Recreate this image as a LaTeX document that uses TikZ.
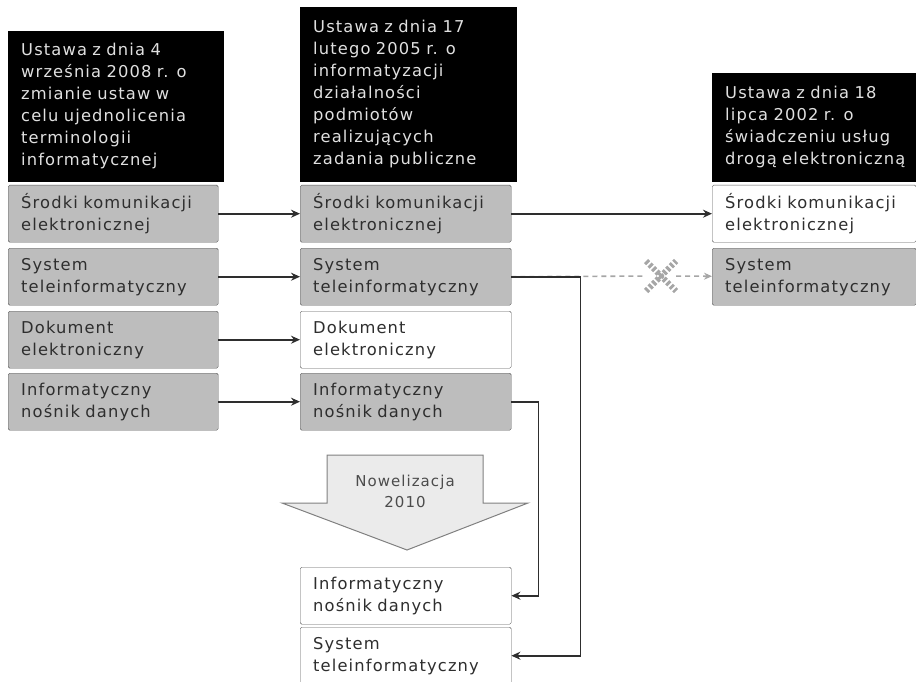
\documentclass[tikz,border=0pt]{standalone}
\usepackage{fontspec}
\setmainfont{DejaVu Sans}[LetterSpace=7]
\usetikzlibrary{arrows.meta,shapes.misc}

\definecolor{boxgray}{HTML}{BDBDBD}
\definecolor{inkgray}{HTML}{2E2E2E}

\begin{document}
\begin{tikzpicture}[x=1pt, y=-1pt,
  every node/.style={font=\fontsize{16.3}{22}\selectfont, text=inkgray},
  law/.style={fill=black, text=black!12, anchor=south west, align=left,
    inner xsep=13, inner ysep=0, minimum width=#1, text width=#1-20},
  term/.style={draw=black!65, fill=boxgray, anchor=north west, align=left,
    rounded corners=1.5, inner xsep=13, minimum height=57,
    minimum width=#1, text width=#1-26},
  term/.default=210,
  newterm/.style={term=#1, fill=white},
  newterm/.default=210,
  link/.style={draw=inkgray, line width=1.6, -{Stealth[length=9,width=8]}},
  lost/.style={draw=black!35, line width=1.6, dash pattern=on 5 off 4}]
  \useasboundingbox (0,0) rectangle (916,682);

  % naglowki ustaw
  \node[law=210, minimum height=151] (lawA) at (8,182) {Ustawa z dnia 4\\ września 2008 r. o\\ zmianie ustaw w\\ celu ujednolicenia\\ terminologii\\ informatycznej};
  \node[law=211, minimum height=175] (lawB) at (300,182) {Ustawa z dnia 17\\ lutego 2005 r. o\\ informatyzacji\\ działalności\\ podmiotów\\ realizujących\\ zadania publiczne};
  \node[law=204, minimum height=109] (lawC) at (712,182) {Ustawa z dnia 18\\ lipca 2002 r. o\\ świadczeniu usług\\ drogą elektroniczną};

  % pojecia
  \node[term] (srodkiA) at (8,185) {Środki komunikacji\\ elektronicznej};
  \node[term] (systemA) at (8,248) {System\\ teleinformatyczny};
  \node[term] (dokumentA) at (8,311) {Dokument\\ elektroniczny};
  \node[term] (nosnikA) at (8,373) {Informatyczny\\ nośnik danych};

  \node[term=211] (srodkiB) at (300,185) {Środki komunikacji\\ elektronicznej};
  \node[term=211] (systemB) at (300,248) {System\\ teleinformatyczny};
  \node[newterm=211] (dokumentB) at (300,311) {Dokument\\ elektroniczny};
  \node[term=211] (nosnikB) at (300,373) {Informatyczny\\ nośnik danych};

  \node[newterm=204] (srodkiC) at (712,185) {Środki komunikacji\\ elektronicznej};
  \node[term=204] (systemC) at (712,248) {System\\ teleinformatyczny};

  \node[newterm=211] (nosnikD) at (300,567) {Informatyczny\\ nośnik danych};
  \node[newterm=211] (systemD) at (300,627) {System\\ teleinformatyczny};

  % nowelizacja
  \draw[draw=black!50, fill=black!8, line width=1]
    (327,455) -- (483,455) -- (483,503) -- (528,503) -- (407,550)
    -- (282,503) -- (327,503) -- cycle;
  \node[font=\fontsize{15}{21}\selectfont, align=center, text=black!70] (nowela) at (405,491) {Nowelizacja\\ 2010};

  % polaczenia
  \node[cross out, draw=black!35, dash pattern=on 3 off 2, line width=6, minimum size=24] (skreslenie) at (661,276) {};
  \draw[lost] (systemB.east) -- (skreslenie);
  \draw[lost, -{Stealth[length=8,width=7]}] (skreslenie) -- (systemC);

  \foreach \a/\b in {srodkiA/srodkiB, systemA/systemB, dokumentA/dokumentB,
    nosnikA/nosnikB, srodkiB/srodkiC}
    \draw[link] (\a) -- (\b);
  \draw[link] (systemB.east) -- ++(69,0) |- (systemD);
  \draw[link] (nosnikB.east) -- ++(27,0) |- (nosnikD);
\end{tikzpicture}
\end{document}
